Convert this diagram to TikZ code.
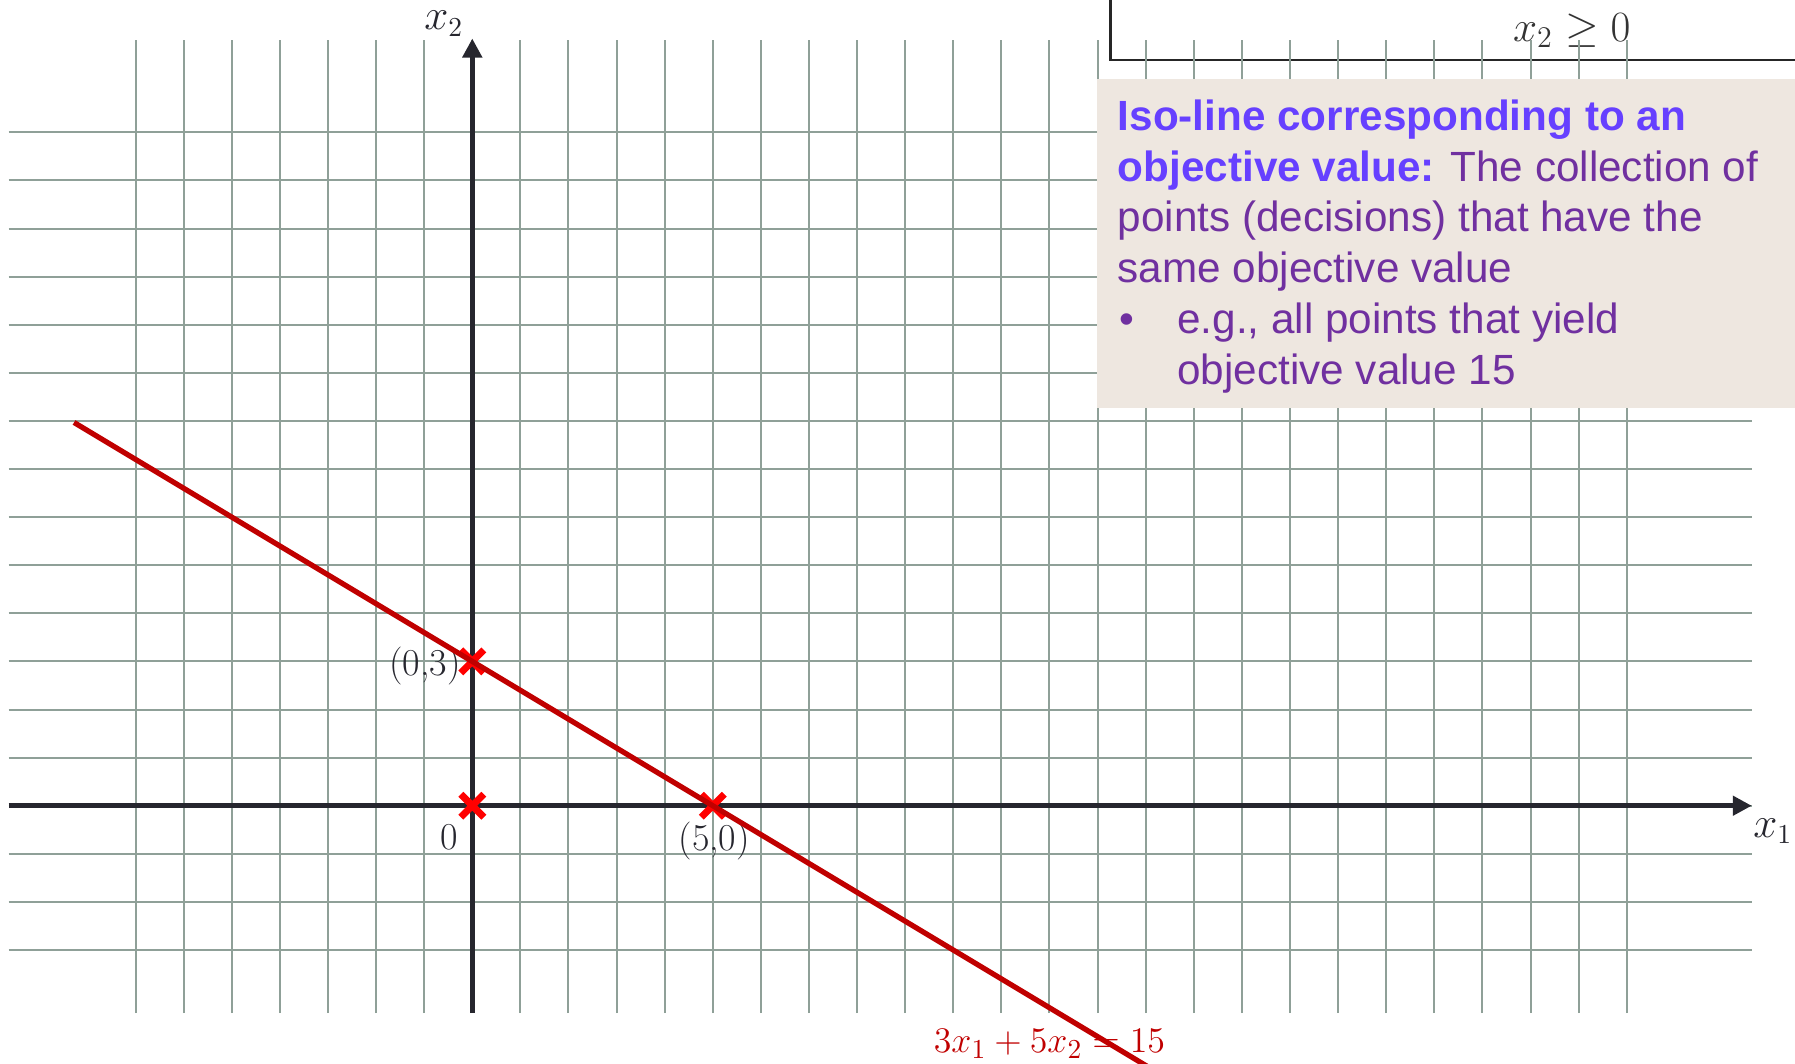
\documentclass[tikz,border=0pt]{standalone}
\usepackage{fontspec}
\newfontfamily\arialf{Liberation Sans}
\usetikzlibrary{arrows.meta,shapes.misc}
\definecolor{gridc}{RGB}{143,160,152}
\definecolor{axisc}{RGB}{38,38,46}
\definecolor{isored}{RGB}{192,0,0}
\definecolor{xred}{RGB}{255,0,0}
\definecolor{beige}{RGB}{238,231,224}
\definecolor{hlblue}{RGB}{102,64,255}
\definecolor{txtpurple}{RGB}{112,48,160}
\begin{document}
\begin{tikzpicture}[x=19.24pt,y=19.24pt,
  gridline/.style={draw=gridc, line width=0.8pt},
  axisline/.style={draw=axisc, line width=2pt, -{Triangle[width=7.6pt,length=7.6pt]}},
  ptmark/.style={cross out, draw=xred, line width=2.8pt, inner sep=0pt, minimum size=6.4pt},
  lbl/.style={text=axisc, font=\fontsize{15.2}{17}\selectfont, inner sep=0pt},
  mlbl/.style={text=axisc, inner sep=0pt, font=\fontsize{16}{18}\selectfont},
  boxtxt/.style={anchor=base west, inner sep=0pt, text=txtpurple, font=\arialf\fontsize{16.9}{20.4}\selectfont},
  hl/.style={text=hlblue}]
\useasboundingbox (-9.819,-5.349) rectangle (27.499,16.751);
\begin{scope}
\clip (-9.819,-5.349) rectangle (27.499,16.751);
% constraint box (top right)
\draw[line width=1pt, draw=black!85, fill=white] (13.27,17.5) rectangle (28,15.50);
\node[inner sep=0pt, text=black!80, font=\fontsize{17.5}{20}\selectfont] (cons) at (22.86,16.12) {$x_2 \geq 0$};
% grid
\foreach \i in {-7,...,24} \draw[gridline] (\i,-4.31) -- (\i,15.92);
\foreach \j in {-3,...,14} \draw[gridline] (-9.64,\j) -- (26.6,\j);
% axes
\coordinate (xs) at (-9.64,0);
\coordinate (xe) at (26.6,0);
\coordinate (ys) at (0,-4.31);
\coordinate (ye) at (0,15.95);
\draw[axisline] (xs) -- (xe);
\draw[axisline] (ys) -- (ye);
% labels
\node[mlbl] (lx2) at (-0.59,16.26) {$x_2$};
\node[mlbl] (lx1) at (27.04,-0.53) {$x_1$};
\node[lbl] (l03) at (-0.98,2.9) {(0,3)};
\node[lbl] (l0) at (-0.49,-0.66) {0};
\node[lbl] (l50) at (5.03,-0.73) {(5,0)};
% points
\node[ptmark] (p00) at (0,0) {};
\node[ptmark] (p03) at (0,3) {};
\node[ptmark] (p50) at (5,0) {};
% iso line
\node[anchor=base, inner sep=0pt, text=isored, font=\fontsize{15.8}{18}\selectfont] (eq) at (12.0,-5.14) {$3x_1+5x_2=15$};
\coordinate (isoA) at (-8.28,7.968);
\coordinate (isoB) at (15,-6);
\draw[draw=isored, line width=2.1pt] (isoA) -- (isoB);
% explanation box
\fill[beige] (12.985,8.262) rectangle (27.6,15.108);
\node[boxtxt] (t1) at (13.411,14.048) {\bfseries\color{hlblue}Iso-line corresponding to an};
\node[boxtxt] (t2) at (13.411,12.988) {{\bfseries\color{hlblue}objective value:} The collection of};
\node[boxtxt] (t3) at (13.411,11.928) {points (decisions) that have the};
\node[boxtxt] (t4) at (13.411,10.868) {same objective value};
\node[boxtxt] (t5b) at (13.45,9.808) {•};
\node[boxtxt] (t5) at (14.65,9.808) {e.g., all points that yield};
\node[boxtxt] (t6) at (14.65,8.748) {objective value 15};
\end{scope}
\end{tikzpicture}
\end{document}
